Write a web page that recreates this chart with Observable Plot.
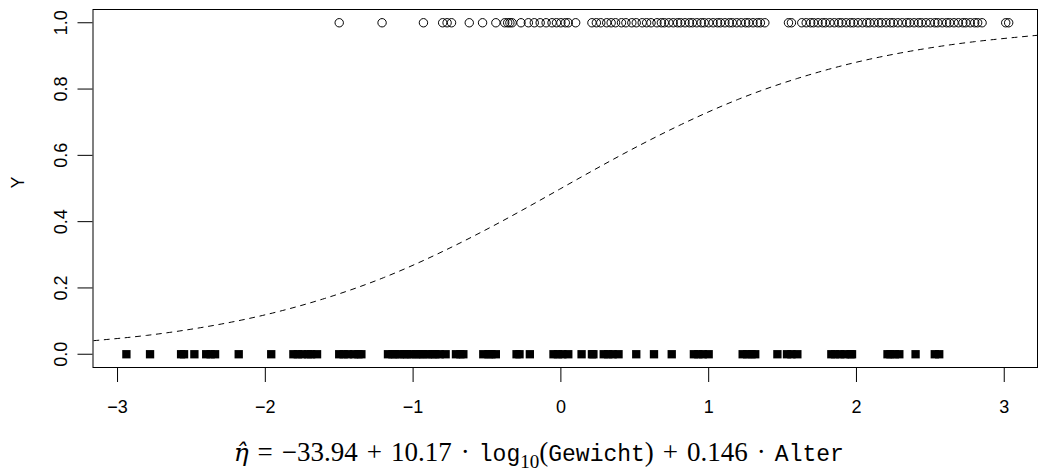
<!DOCTYPE html>
<html><head><meta charset="utf-8">
<script src="https://cdn.jsdelivr.net/npm/d3@7"></script>
<script src="https://cdn.jsdelivr.net/npm/@observablehq/plot@0.6"></script>
<style>body{margin:0;background:#fff}</style>
</head><body><div id="chart"></div>
<script>
// Tick values
const xTicks = [-3, -2, -1, 0, 1, 2, 3];
const yTicks = [0, 0.2, 0.4, 0.6, 0.8, 1.0];

// Linear predictor values of observations with Y = 1 (open circles)
const etaY1 = [-1.50, -1.21, -0.93, -0.80, -0.77, -0.74, -0.62, -0.53, -0.44, -0.38, -0.36, -0.345, -0.33,
  -0.27, -0.22, -0.18, -0.14, -0.10, -0.06, -0.03, 0.00, 0.03, 0.05, 0.10, 0.21, 0.24, 0.27, 0.31, 0.34,
  0.37, 0.41, 0.44, 0.48, 0.51, 0.55, 0.58, 0.61, 0.65, 0.68, 0.70, 0.73, 0.76, 0.79, 0.81, 0.84, 0.87,
  0.89, 0.92, 0.95, 0.97, 1.00, 1.03, 1.06, 1.08, 1.11, 1.14, 1.16, 1.19, 1.22, 1.25, 1.27, 1.30, 1.33,
  1.35, 1.38, 1.54, 1.56, 1.63, 1.66, 1.69, 1.71, 1.74, 1.77, 1.79, 1.82, 1.85, 1.88, 1.90, 1.93, 1.96,
  1.98, 2.01, 2.04, 2.07, 2.09, 2.12, 2.15, 2.17, 2.20, 2.23, 2.25, 2.28, 2.31, 2.34, 2.36, 2.39, 2.42,
  2.44, 2.47, 2.50, 2.53, 2.55, 2.58, 2.61, 2.63, 2.66, 2.69, 2.72, 2.74, 2.77, 2.80, 2.82, 2.85, 3.01, 3.03];

// Linear predictor values of observations with Y = 0 (filled squares)
const etaY0 = [-2.94, -2.78, -2.57, -2.55, -2.48, -2.40, -2.37, -2.34, -2.18, -1.96,
  -1.81, -1.78, -1.75, -1.71, -1.69, -1.65, -1.50, -1.47, -1.44, -1.40, -1.37, -1.35,
  -1.17, -1.14, -1.12, -1.09, -1.06, -1.04, -1.01, -0.98, -0.955, -0.93, -0.90, -0.87, -0.85, -0.82, -0.78,
  -0.71, -0.68, -0.66, -0.525, -0.49, -0.47, -0.44, -0.30, -0.28, -0.21,
  -0.05, -0.02, 0.01, 0.05, 0.14, 0.21, 0.22, 0.29, 0.32, 0.35, 0.39, 0.51, 0.63, 0.75,
  0.90, 0.93, 0.96, 1.00, 1.23, 1.26, 1.29, 1.315, 1.465, 1.53, 1.56, 1.60,
  1.83, 1.855, 1.89, 1.92, 1.96, 1.97, 2.21, 2.23, 2.26, 2.29, 2.40, 2.53, 2.56];

// Fitted probability curve
const curveEta = [-3.16, -2.8, -2.4, -2.0, -1.6, -1.2, -0.8, -0.4, 0.0, 0.4, 0.8, 1.2, 1.6, 2.0, 2.4, 2.8, 3.22];
const curveP   = [0.041, 0.057, 0.083, 0.119, 0.168, 0.231, 0.310, 0.401, 0.500, 0.599, 0.690, 0.769, 0.832, 0.881, 0.917, 0.943, 0.962];

const yes = etaY1.map(x => ({x, y: 1}));
const no = etaY0.map(x => ({x, y: 0}));
const fit = curveEta.map((x, i) => ({x, y: curveP[i]}));

const W = 1038, H = 473, ML = 92.5, MR = 1, MT = 9, MB = 106;
const sans = "'Liberation Sans', Arial, Helvetica, sans-serif";

const chart = Plot.plot({
  width: W, height: H,
  marginLeft: ML, marginRight: MR, marginTop: MT, marginBottom: MB,
  x: {domain: [-3.166, 3.225]},
  y: {domain: [-0.04, 1.04]},
  style: {fontFamily: sans, fontSize: "18px", background: "white", color: "black", overflow: "visible"},
  marks: [
    Plot.line(fit, {x: "x", y: "y", curve: "natural", stroke: "black", strokeWidth: 1, strokeDasharray: "5,5.5"}),
    Plot.dot(yes, {x: "x", y: "y", r: 4.2, stroke: "black", strokeWidth: 1, fill: "none"}),
    Plot.dot(no, {x: "x", y: "y", symbol: "square", r: 4.7, fill: "black", stroke: "none"}),
    Plot.frame({stroke: "black", strokeWidth: 1}),
    Plot.axisX({ticks: xTicks, tickSize: 15, tickPadding: 18, fontSize: 18, label: null,
      tickFormat: d => (d < 0 ? "\u2212" : "") + Math.abs(d)}),
    Plot.axisY({ticks: yTicks, tickSize: 15, tickPadding: 11, tickRotate: -90, textAnchor: "middle",
      lineAnchor: "bottom", fontSize: 18, label: null, tickFormat: d3.format(".1f")}),
    Plot.text(["Y"], {frameAnchor: "left", dx: -74.5, rotate: -90, fontSize: 18})
  ]
});
document.getElementById("chart").appendChild(chart);

// x-axis title (formula) below the plot
const serif = "'Liberation Serif', 'DejaVu Serif', serif";
const mono = "'Liberation Mono', 'DejaVu Sans Mono', monospace";
const cx = (ML + W - MR) / 2 - 26;
const baseY = H - MB + 94;
const sp = "\u2004";
const t = d3.select(chart).append("text")
  .attr("x", cx).attr("y", baseY)
  .attr("text-anchor", "middle")
  .attr("font-family", serif).attr("font-size", 27).attr("fill", "black");
t.append("tspan").attr("font-family", "'DejaVu Serif', serif").attr("font-size", 25)
  .attr("font-style", "italic").text("\u03B7\u0302");
t.append("tspan").text(sp + "=" + sp + "\u221233.94" + sp + "+" + sp + "10.17" + sp + "\u00B7" + sp);
t.append("tspan").attr("font-family", mono).attr("font-size", 23).text("log");
t.append("tspan").attr("font-size", 19).attr("dy", 7).text("10");
t.append("tspan").attr("dy", -7).text("(");
t.append("tspan").attr("font-family", mono).attr("font-size", 23).text("Gewicht");
t.append("tspan").text(")" + sp + "+" + sp + "0.146" + sp + "\u00B7" + sp);
t.append("tspan").attr("font-family", mono).attr("font-size", 23).text("Alter");
</script>
</body></html>
